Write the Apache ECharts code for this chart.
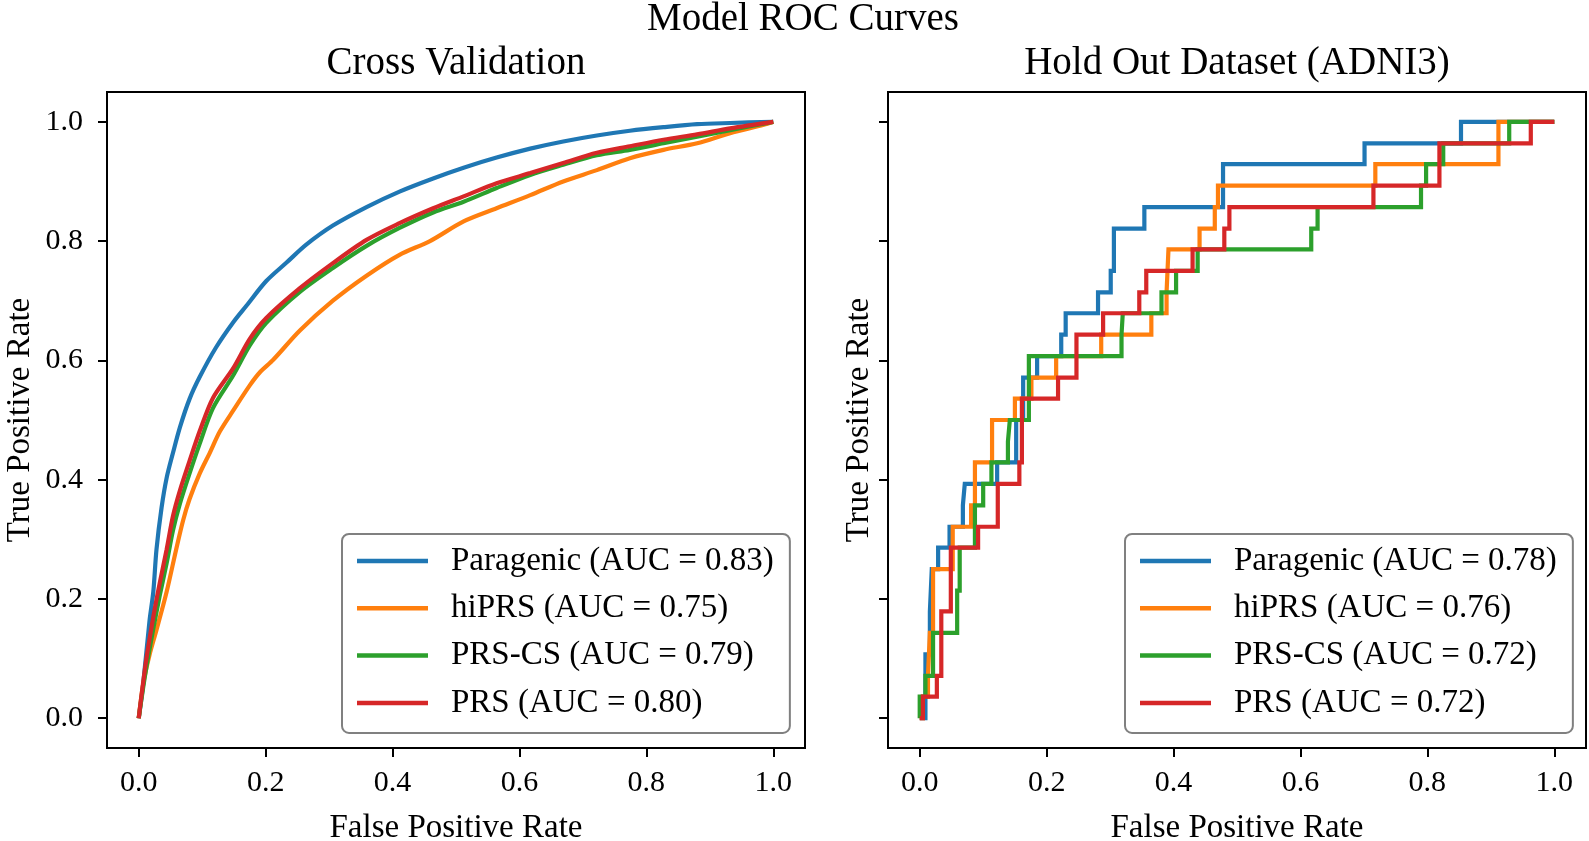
<!DOCTYPE html>
<html>
<head>
<meta charset="utf-8">
<script src="https://cdn.jsdelivr.net/npm/echarts@6/dist/echarts.min.js"></script>
<style>
html,body{margin:0;padding:0;background:#ffffff;}
#chart{width:1589px;height:841px;}
</style>
</head>
<body>
<div id="chart"></div>
<script>
// ---------- text ----------
const suptitleText = 'Model ROC Curves';
const panelTitles = ['Cross Validation', 'Hold Out Dataset (ADNI3)'];
const xAxisLabel = 'False Positive Rate';
const yAxisLabel = 'True Positive Rate';
const tickValues = [0.0, 0.2, 0.4, 0.6, 0.8, 1.0];
const tickLabels = ['0.0', '0.2', '0.4', '0.6', '0.8', '1.0'];
const modelNames = ['Paragenic', 'hiPRS', 'PRS-CS', 'PRS'];
const aucCV = ['0.83', '0.75', '0.79', '0.80'];
const aucHO = ['0.78', '0.76', '0.72', '0.72'];
const colors = ['#1f77b4', '#ff7f0e', '#2ca02c', '#d62728'];

// ---------- Cross validation curves ----------
const cvFprParagenic = [0, 0.007, 0.017, 0.023, 0.028, 0.036, 0.044, 0.054, 0.065, 0.080, 0.096, 0.122, 0.149, 0.170, 0.201, 0.233, 0.264, 0.306, 0.359, 0.411, 0.464, 0.512, 0.564, 0.617, 0.669, 0.722, 0.774, 0.827, 0.880, 0.932, 1.0];
const cvTprParagenic = [0, 0.057, 0.163, 0.212, 0.283, 0.353, 0.403, 0.445, 0.488, 0.535, 0.572, 0.622, 0.664, 0.692, 0.733, 0.764, 0.794, 0.826, 0.857, 0.883, 0.905, 0.923, 0.940, 0.955, 0.967, 0.977, 0.985, 0.991, 0.996, 0.998, 1.0];

const cvFprHiPRS = [0, 0.007, 0.017, 0.028, 0.044, 0.059, 0.070, 0.080, 0.096, 0.112, 0.128, 0.149, 0.175, 0.191, 0.212, 0.254, 0.306, 0.359, 0.411, 0.459, 0.512, 0.564, 0.617, 0.669, 0.722, 0.774, 0.827, 0.880, 0.932, 0.985, 1.0];
const cvTprHiPRS = [0, 0.057, 0.106, 0.148, 0.212, 0.283, 0.332, 0.367, 0.410, 0.445, 0.481, 0.516, 0.558, 0.580, 0.601, 0.650, 0.700, 0.742, 0.777, 0.800, 0.833, 0.855, 0.877, 0.900, 0.919, 0.939, 0.953, 0.964, 0.981, 0.995, 1.0];

const cvFprPRSCS = [0, 0.004, 0.012, 0.023, 0.033, 0.044, 0.054, 0.065, 0.080, 0.096, 0.117, 0.149, 0.175, 0.201, 0.254, 0.306, 0.359, 0.411, 0.464, 0.512, 0.564, 0.617, 0.669, 0.722, 0.774, 0.827, 0.880, 0.932, 1.0];
const cvTprPRSCS = [0, 0.030, 0.085, 0.150, 0.205, 0.260, 0.315, 0.360, 0.410, 0.460, 0.520, 0.575, 0.625, 0.663, 0.715, 0.755, 0.792, 0.822, 0.848, 0.866, 0.889, 0.911, 0.928, 0.944, 0.953, 0.964, 0.975, 0.986, 1.0];

const cvFprPRS = [0, 0.004, 0.012, 0.023, 0.033, 0.044, 0.054, 0.065, 0.080, 0.096, 0.117, 0.149, 0.175, 0.201, 0.254, 0.306, 0.359, 0.411, 0.464, 0.512, 0.564, 0.617, 0.669, 0.722, 0.774, 0.827, 0.880, 0.932, 1.0];
const cvTprPRS = [0, 0.035, 0.099, 0.170, 0.226, 0.283, 0.339, 0.382, 0.431, 0.481, 0.537, 0.587, 0.636, 0.671, 0.721, 0.763, 0.802, 0.830, 0.855, 0.875, 0.897, 0.914, 0.931, 0.948, 0.959, 0.970, 0.979, 0.989, 1.0];

// ---------- Hold out curves: FPR where TPR jumps, and TPR after the jump ----------
const hoFprParagenic = [0, 0.009, 0.016, 0.019, 0.029, 0.047, 0.068, 0.071, 0.122, 0.152, 0.163, 0.185, 0.223, 0.230, 0.281, 0.301, 0.306, 0.354, 0.478, 0.701, 0.853, 1.0];
const hoTprParagenic = [0, 0.107, 0.179, 0.250, 0.286, 0.321, 0.357, 0.393, 0.429, 0.500, 0.571, 0.607, 0.643, 0.679, 0.714, 0.750, 0.821, 0.857, 0.929, 0.964, 1.0, 1.0];

const hoFprHiPRS = [0, 0.005, 0.013, 0.016, 0.021, 0.052, 0.081, 0.087, 0.114, 0.150, 0.176, 0.215, 0.286, 0.365, 0.389, 0.392, 0.441, 0.465, 0.470, 0.718, 0.912, 1.0];
const hoTprHiPRS = [0, 0.036, 0.071, 0.143, 0.250, 0.321, 0.357, 0.429, 0.500, 0.536, 0.571, 0.607, 0.643, 0.679, 0.714, 0.786, 0.821, 0.857, 0.893, 0.929, 1.0, 1.0];

const hoFprPRSCS = [0, 0, 0.009, 0.021, 0.059, 0.063, 0.087, 0.100, 0.113, 0.139, 0.142, 0.172, 0.318, 0.320, 0.381, 0.404, 0.438, 0.617, 0.627, 0.790, 0.798, 0.825, 0.929, 1.0];
const hoTprPRSCS = [0, 0.036, 0.071, 0.143, 0.214, 0.286, 0.357, 0.393, 0.429, 0.464, 0.500, 0.607, 0.643, 0.679, 0.714, 0.750, 0.786, 0.821, 0.857, 0.893, 0.929, 0.964, 1.0, 1.0];

const hoFprPRS = [0, 0.005, 0.027, 0.034, 0.049, 0.092, 0.123, 0.157, 0.161, 0.218, 0.247, 0.289, 0.346, 0.357, 0.430, 0.480, 0.488, 0.715, 0.819, 0.963, 1.0];
const hoTprPRS = [0, 0.036, 0.071, 0.179, 0.286, 0.321, 0.393, 0.429, 0.536, 0.571, 0.643, 0.679, 0.714, 0.750, 0.786, 0.821, 0.857, 0.893, 0.964, 1.0, 1.0];

// ---------- build ----------
const FONT = "'Liberation Serif', 'Times New Roman', serif";
const cvX = [cvFprParagenic, cvFprHiPRS, cvFprPRSCS, cvFprPRS];
const cvY = [cvTprParagenic, cvTprHiPRS, cvTprPRSCS, cvTprPRS];
const hoX = [hoFprParagenic, hoFprHiPRS, hoFprPRSCS, hoFprPRS];
const hoY = [hoTprParagenic, hoTprHiPRS, hoTprPRSCS, hoTprPRS];

function pairs(xs, ys) { return xs.map((x, i) => [x, ys[i]]); }
function stepPairs(xs, ys) {
  const pts = [[xs[0], ys[0]]];
  for (let i = 1; i < xs.length; i++) {
    pts.push([xs[i], ys[i - 1]]);
    pts.push([xs[i], ys[i]]);
  }
  return pts;
}
function fmtTick(v) {
  const i = tickValues.findIndex(t => Math.abs(t - v) < 1e-9);
  return i >= 0 ? tickLabels[i] : '';
}

const GRIDS = [
  { left: 107, top: 92, width: 698, height: 656 },
  { left: 888, top: 92, width: 698, height: 656 }
];

function xAxisFor(gi) {
  return {
    type: 'value', gridIndex: gi, min: -0.05, max: 1.05,
    name: xAxisLabel, nameLocation: 'middle', nameGap: 64,
    nameTextStyle: { fontFamily: FONT, fontSize: 33, color: '#000' },
    axisLine: { show: false, onZero: false },
    axisTick: { show: true, customValues: tickValues, length: 9, inside: false, lineStyle: { color: '#000', width: 2 } },
    axisLabel: { show: true, customValues: tickValues, formatter: fmtTick, margin: 20, fontFamily: FONT, fontSize: 30, color: '#000' },
    splitLine: { show: false }
  };
}
function yAxisFor(gi) {
  return {
    type: 'value', gridIndex: gi, min: -0.05, max: 1.05,
    name: yAxisLabel, nameLocation: 'middle', nameGap: gi === 0 ? 70 : 12,
    nameTextStyle: { fontFamily: FONT, fontSize: 33, color: '#000' },
    axisLine: { show: false, onZero: false },
    axisTick: { show: true, customValues: tickValues, length: 9, inside: false, lineStyle: { color: '#000', width: 2 } },
    axisLabel: { show: gi === 0, customValues: tickValues, formatter: fmtTick, margin: 24, fontFamily: FONT, fontSize: 30, color: '#000' },
    splitLine: { show: false }
  };
}

const series = [];
const cvNames = modelNames.map((n, i) => n + ' (AUC = ' + aucCV[i] + ')');
const hoNames = modelNames.map((n, i) => n + ' (AUC = ' + aucHO[i] + ')');
for (let i = 0; i < 4; i++) {
  series.push({
    name: cvNames[i], type: 'line', xAxisIndex: 0, yAxisIndex: 0,
    data: pairs(cvX[i], cvY[i]), showSymbol: false, symbol: 'none', smooth: 0.3,
    lineStyle: { color: colors[i], width: 4.2 }, itemStyle: { color: colors[i] },
    z: 2 + i, silent: true
  });
}
for (let i = 0; i < 4; i++) {
  series.push({
    name: hoNames[i], type: 'line', xAxisIndex: 1, yAxisIndex: 1,
    data: stepPairs(hoX[i], hoY[i]), showSymbol: false, symbol: 'none',
    lineStyle: { color: colors[i], width: 4.2, join: 'miter' }, itemStyle: { color: colors[i] },
    z: 2 + i, silent: true
  });
}

function legendFor(names, left) {
  return {
    data: names, left: left, top: 534, orient: 'vertical',
    icon: 'rect', itemWidth: 71, itemHeight: 4.5, itemGap: 7.3,
    selectedMode: false,
    textStyle: { fontFamily: FONT, fontSize: 33, color: '#000', lineHeight: 40, padding: [0, 0, 0, 18] },
    padding: [7, 16, 10, 15],
    backgroundColor: 'rgba(255,255,255,0.8)',
    borderColor: '#808080', borderWidth: 2, borderRadius: 7,
    itemStyle: { borderWidth: 0 }
  };
}

const titleStyle = { fontFamily: FONT, fontSize: 39, fontWeight: 'normal', color: '#000' };
const option = {
  animation: false,
  backgroundColor: '#ffffff',
  title: [
    { text: suptitleText, left: 803, top: 0, textAlign: 'center', padding: 0, textStyle: titleStyle },
    { text: panelTitles[0], left: 456, top: 44, textAlign: 'center', padding: 0, textStyle: titleStyle },
    { text: panelTitles[1], left: 1237, top: 44, textAlign: 'center', padding: 0, textStyle: titleStyle }
  ],
  grid: GRIDS.map(g => Object.assign({ show: true, borderColor: '#000', borderWidth: 2, backgroundColor: 'transparent', containLabel: false, outerBoundsMode: 'none' }, g)),
  xAxis: [xAxisFor(0), xAxisFor(1)],
  yAxis: [yAxisFor(0), yAxisFor(1)],
  legend: [legendFor(cvNames, 342), legendFor(hoNames, 1125)],
  series: series
};

const chart = echarts.init(document.getElementById('chart'), null, { renderer: 'canvas' });
chart.setOption(option);
</script>
</body>
</html>
